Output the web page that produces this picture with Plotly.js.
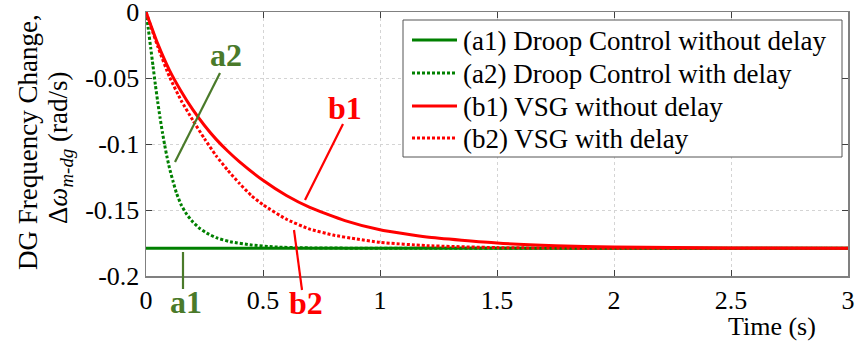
<!DOCTYPE html>
<html>
<head>
<meta charset="utf-8">
<script src="https://cdn.plot.ly/plotly-3.0.1.min.js"></script>
<style>html,body{margin:0;padding:0;background:#fff;}#chart{width:857px;height:346px;}</style>
</head>
<body>
<div id="chart"></div>
<script>
// ---- data ----
const seriesNames = ["(a1) Droop Control without delay", "(a2) Droop Control with delay", "(b1) VSG without delay", "(b2) VSG with delay"];

const a1_t = [0, 3];
const a1_v = [-0.179, -0.179];

const a2_t = [0, 0.01, 0.02, 0.03, 0.04, 0.05, 0.06, 0.07, 0.08, 0.09, 0.1, 0.115, 0.13, 0.15, 0.175, 0.2, 0.23, 0.26, 0.3, 0.36, 0.45, 0.55, 0.7, 1.0, 3.0];
const a2_v = [0, -0.013, -0.027, -0.041, -0.055, -0.068, -0.08, -0.091, -0.101, -0.11, -0.118, -0.128, -0.137, -0.146, -0.1535, -0.159, -0.164, -0.1675, -0.171, -0.174, -0.1765, -0.178, -0.1787, -0.179, -0.179];

const b1_t = [0, 0.05, 0.1, 0.15, 0.2, 0.25, 0.3, 0.35, 0.4, 0.5, 0.6, 0.7, 0.85, 1.0, 1.2, 1.5, 1.75, 2.0, 2.5, 3.0];
const b1_v = [0, -0.024, -0.044, -0.06, -0.074, -0.086, -0.0965, -0.1055, -0.1135, -0.1275, -0.139, -0.148, -0.158, -0.165, -0.1705, -0.175, -0.177, -0.178, -0.1788, -0.179];

const b2_t = [0, 0.05, 0.1, 0.15, 0.2, 0.25, 0.3, 0.35, 0.4, 0.45, 0.5, 0.6, 0.7, 0.8, 0.9, 1.0, 1.2, 1.5, 2.0, 3.0];
const b2_v = [0, -0.026, -0.049, -0.067, -0.082, -0.096, -0.109, -0.12, -0.13, -0.139, -0.146, -0.157, -0.1645, -0.169, -0.172, -0.1745, -0.177, -0.1785, -0.179, -0.179];

const xTickVals = [0, 0.5, 1, 1.5, 2, 2.5, 3];
const xTickText = ["0", "0.5", "1", "1.5", "2", "2.5", "3"];
const yTickVals = [0, -0.05, -0.1, -0.15, -0.2];
const yTickText = ["0", "-0.05", "-0.1", "-0.15", "-0.2"];

// ---- styling ----
const GREEN = "#008000";
const RED = "#ff0000";
const LABEL_GREEN = "#4a7a2a";
const FONT = "'Liberation Serif', 'Times New Roman', serif";
const DOT = "3px,2px";

const lineStyles = [
  {color: GREEN, width: 3},
  {color: GREEN, width: 3, dash: DOT},
  {color: RED, width: 3},
  {color: RED, width: 3, dash: DOT}
];
const xs = [a1_t, a2_t, b1_t, b2_t];
const ys = [a1_v, a2_v, b1_v, b2_v];

const traces = xs.map((x, i) => ({
  x: x, y: ys[i], name: seriesNames[i], mode: "lines",
  line: Object.assign({}, lineStyles[i], i === 0 ? {} : {shape: "spline", smoothing: 0.5})
}));

// helpers: pixel -> paper
const L = 146, R = 9, T = 12, B = 70, W = 857, H = 346;
const pw = W - L - R, ph = H - T - B;
const px = p => (p - L) / pw;
const py = p => (H - B - p) / ph;

function leader(x0, y0, x1, y1, color) {
  return {type: "line", xref: "paper", yref: "paper", x0: px(x0), y0: py(y0), x1: px(x1), y1: py(y1),
          line: {color: color, width: 2.2}};
}
function label(text, x, y, color) {
  return {text: "<b>" + text + "</b>", xref: "paper", yref: "paper", x: px(x), y: py(y),
          xanchor: "center", yanchor: "middle", showarrow: false,
          font: {family: FONT, size: 32, color: color}};
}

// legend (drawn as a framed box with sample lines and text)
const legBox = {x0: 403, x1: 842, y0: 20, y1: 157};
const legRows = [40, 73, 106, 138];
const legendShapes = [{type: "rect", xref: "paper", yref: "paper",
  x0: px(legBox.x0), x1: px(legBox.x1), y0: py(legBox.y1), y1: py(legBox.y0),
  line: {color: "#555555", width: 1}, fillcolor: "#ffffff", layer: "above"}];
const legendTexts = [];
seriesNames.forEach((n, i) => {
  legendShapes.push({type: "line", xref: "paper", yref: "paper",
    x0: px(412), x1: px(457), y0: py(legRows[i]), y1: py(legRows[i]),
    line: {color: lineStyles[i].color, width: 3, dash: lineStyles[i].dash || "solid"}});
  legendTexts.push({text: n, xref: "paper", yref: "paper", x: px(461), y: py(legRows[i] + 1),
    xanchor: "left", yanchor: "middle", showarrow: false,
    font: {family: FONT, size: 27, color: "#000"}});
});

const axisCommon = {
  showgrid: true, gridcolor: "#d4d4d4", griddash: "dot", gridwidth: 1,
  showline: true, linecolor: "#808080", linewidth: 1.5, mirror: "ticks",
  ticks: "inside", ticklen: 6, tickcolor: "#404040", tickwidth: 1,
  zeroline: false, ticklabeloverflow: "allow",
  tickfont: {family: FONT, size: 26, color: "#000"}
};

const layout = {
  width: W, height: H,
  margin: {l: L, r: R, t: T, b: B},
  paper_bgcolor: "#ffffff", plot_bgcolor: "#ffffff",
  font: {family: FONT, size: 26, color: "#000"},
  showlegend: false,
  xaxis: Object.assign({range: [0, 3], tickvals: xTickVals, ticktext: xTickText}, axisCommon),
  yaxis: Object.assign({range: [-0.2, 0], tickvals: yTickVals, ticktext: yTickText}, axisCommon),
  shapes: [
    leader(175, 162, 220, 73, LABEL_GREEN),
    leader(183, 252, 183, 289, LABEL_GREEN),
    leader(305, 200, 343, 124, RED),
    leader(294, 230, 302, 290, RED)
  ].concat(legendShapes),
  annotations: [
    label("a2", 226, 55, LABEL_GREEN),
    label("a1", 186, 302, LABEL_GREEN),
    label("b1", 345, 108, RED),
    label("b2", 306, 303, RED),
    {text: "Time (s)", xref: "paper", yref: "paper", x: px(772), y: py(326), xanchor: "center", yanchor: "middle",
     showarrow: false, font: {family: FONT, size: 26, color: "#000"}},
    {text: "DG Frequency Change,", xref: "paper", yref: "paper", x: px(28), y: py(142), xanchor: "center", yanchor: "middle",
     textangle: -90, showarrow: false, font: {family: FONT, size: 27, color: "#000"}},
    {text: "Δ<i>ω</i><sub><i>m-dg</i></sub> (rad/s)", xref: "paper", yref: "paper", x: px(60), y: py(148), xanchor: "center", yanchor: "middle",
     textangle: -90, showarrow: false, font: {family: FONT, size: 27, color: "#000"}}
  ].concat(legendTexts)
};

Plotly.newPlot("chart", traces, layout, {displayModeBar: false, staticPlot: true});
</script>
</body>
</html>
